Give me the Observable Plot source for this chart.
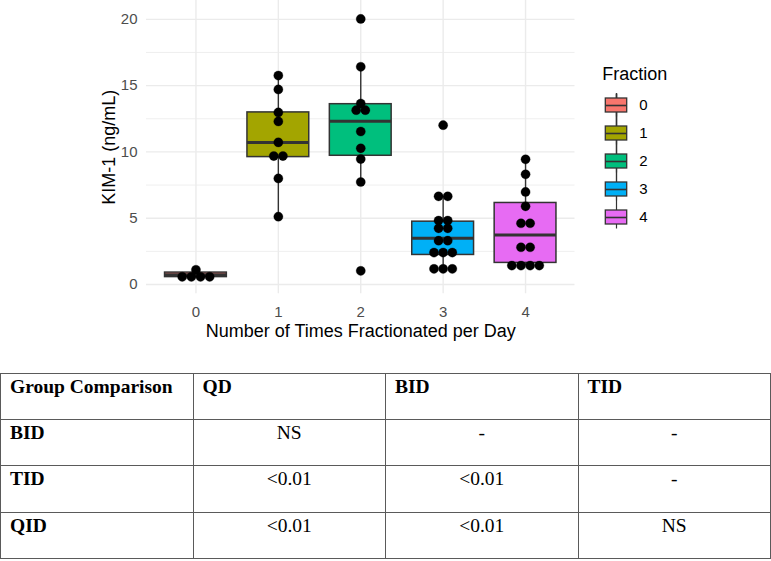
<!DOCTYPE html>
<html>
<head>
<meta charset="utf-8">
<script src="https://cdn.jsdelivr.net/npm/d3@7"></script>
<script src="https://cdn.jsdelivr.net/npm/@observablehq/plot@0.6"></script>
<style>
  html, body { margin: 0; padding: 0; background: #fff; }
  #wrap { position: relative; width: 771px; height: 561px; overflow: hidden; }
  #chart { position: absolute; left: 0; top: 0; }
  #legend { position: absolute; left: 595px; top: 55px; }
  #tbl { position: absolute; left: 0; top: 373px; border-collapse: collapse; table-layout: fixed;
         width: 770px;
         font-family: "Liberation Serif", "Times New Roman", serif; font-size: 19.5px; color: #000; }
  #tbl td { border: 1.5px solid #5a5a5a; width: 192.5px; height: 46.2px; vertical-align: top;
            padding: 2px 0 0 0; line-height: 1.15; box-sizing: border-box; }
  #tbl td.lab { font-weight: bold; text-align: left; padding-left: 9px; }
  #tbl td.val { text-align: center; }
</style>
</head>
<body>
<div id="wrap">
  <div id="chart"></div>
  <div id="legend"></div>
  <table id="tbl"></table>
</div>
<script>
// ---------- data ----------
const fractions = [0, 1, 2, 3, 4];
const fractionColors = ["#F8766D", "#A3A500", "#00BF7D", "#00B0F6", "#E76BF3"];

// KIM-1 (ng/mL) individual values (as displayed by the dot plot)
const kimFraction0 = [0.58, 0.58, 0.58, 0.58, 1.11];
const kimFraction1 = [15.76, 14.71, 12.98, 12.30, 10.72, 9.69, 9.69, 8.00, 5.12];
const kimFraction2 = [20.03, 16.42, 13.65, 13.15, 13.15, 11.54, 10.27, 9.46, 7.73, 1.03];
const kimFraction3 = [12.02, 6.65, 6.65, 4.82, 4.82, 4.24, 4.24, 3.31, 3.31, 2.41, 2.41, 2.41, 1.18, 1.18, 1.18];
const kimFraction4 = [9.44, 8.31, 6.98, 5.90, 4.62, 4.62, 2.81, 2.81, 1.43, 1.43, 1.43, 1.43];

// box plot statistics per fraction
const boxQ1        = [0.56, 9.61, 9.71, 2.23, 1.63];
const boxMedian    = [0.74, 10.72, 12.32, 3.49, 3.74];
const boxQ3        = [0.90, 12.98, 13.60, 4.74, 6.15];
const whiskerLow   = [0.50, 5.12, 7.73, 1.18, 1.43];
const whiskerHigh  = [1.11, 15.76, 16.42, 6.65, 9.44];

const yTicks = [0, 5, 10, 15, 20];
const yMinorTicks = [2.5, 7.5, 12.5, 17.5];

// comparison table
const tableHeader = ["Group Comparison", "QD", "BID", "TID"];
const tableRowLabels = ["BID", "TID", "QID"];
const tableValues = [
  ["NS", "-", "-"],
  ["<0.01", "<0.01", "-"],
  ["<0.01", "<0.01", "NS"]
];

// ---------- build tables for the marks ----------
const BOX_HALF = 0.375;     // ggplot default box width 0.75
const DOT_STEP = 0.111;     // horizontal spacing of stacked dots (x units)

const boxes = fractions.map((f, i) => ({
  fraction: f, q1: boxQ1[i], med: boxMedian[i], q3: boxQ3[i],
  lo: whiskerLow[i], hi: whiskerHigh[i]
}));

function stack(f, values) {
  const counts = d3.rollup(values, v => v.length, v => v);
  const seen = new Map();
  return values.map(v => {
    const n = counts.get(v);
    const k = seen.get(v) || 0;
    seen.set(v, k + 1);
    return { fraction: f, value: v, xp: f + (k - (n - 1) / 2) * DOT_STEP };
  });
}
const dots = [
  ...stack(0, kimFraction0), ...stack(1, kimFraction1), ...stack(2, kimFraction2),
  ...stack(3, kimFraction3), ...stack(4, kimFraction4)
];

const font = "'Liberation Sans', Arial, sans-serif";
const grid = "#EBEBEB";
const dark = "#333333";

const chart = Plot.plot({
  width: 771,
  height: 345,
  marginTop: 0,
  marginLeft: 146,
  marginRight: 196.5,
  marginBottom: 51.7,
  style: { fontFamily: font, background: "white", overflow: "visible" },
  x: { domain: [-0.6, 4.6] },
  y: { domain: [-0.7, 21.42] },
  color: { type: "ordinal", domain: fractions, range: fractionColors },
  marks: [
    Plot.gridY(yMinorTicks, { stroke: grid, strokeOpacity: 1, strokeWidth: 0.8 }),
    Plot.gridY(yTicks, { stroke: grid, strokeOpacity: 1, strokeWidth: 1.4 }),
    Plot.gridX(fractions, { stroke: grid, strokeOpacity: 1, strokeWidth: 1.4 }),
    Plot.axisY(yTicks, { tickSize: 0, tickPadding: 9, fontSize: 15, color: "#4D4D4D", label: null }),
    Plot.axisX(fractions, { tickSize: 0, tickPadding: 12.5, fontSize: 15, color: "#4D4D4D", label: null, tickFormat: d => String(d) }),
    Plot.ruleX(boxes, { x: "fraction", y1: "lo", y2: "hi", stroke: dark, strokeWidth: 1.4 }),
    Plot.rect(boxes, {
      x1: d => d.fraction - BOX_HALF, x2: d => d.fraction + BOX_HALF,
      y1: "q1", y2: "q3", fill: "fraction", stroke: dark, strokeWidth: 1.5
    }),
    Plot.ruleY(boxes, {
      y: "med", x1: d => d.fraction - BOX_HALF, x2: d => d.fraction + BOX_HALF,
      stroke: dark, strokeWidth: 3
    }),
    Plot.dot(dots, { x: "xp", y: "value", r: 4.6, fill: "black", stroke: "black", strokeWidth: 0.3 }),
    Plot.text(["Number of Times Fractionated per Day"], {
      frameAnchor: "bottom", dy: 37, lineAnchor: "middle", fontSize: 18, fill: "black"
    }),
    Plot.text(["KIM-1 (ng/mL)"], {
      frameAnchor: "left", dx: -37.5, rotate: -90, textAnchor: "middle", lineAnchor: "middle",
      fontSize: 18, fill: "black"
    })
  ]
});
document.getElementById("chart").appendChild(chart);

// ---------- legend ----------
const legend = Plot.plot({
  width: 120,
  height: 185,
  margin: 0,
  style: { fontFamily: font, background: "transparent" },
  x: { domain: [0, 1], range: [10.3, 31.7], axis: null },
  y: { type: "band", domain: fractions, range: [34.8, 176.9], padding: 0, axis: null },
  color: { type: "ordinal", domain: fractions, range: fractionColors },
  marks: [
    Plot.ruleX(fractions, { x: 0.5, y: d => d, insetTop: 2.5, insetBottom: 2.5, stroke: dark, strokeWidth: 1.2 }),
    Plot.barX(fractions, { x1: 0, x2: 1, y: d => d, fill: d => d, insetTop: 7, insetBottom: 7, stroke: dark, strokeWidth: 1.3 }),
    Plot.ruleY(fractions, { y: d => d, x1: 0, x2: 1, stroke: dark, strokeWidth: 1.6 }),
    Plot.text(fractions, { x: 1, y: d => d, dx: 12, text: d => String(d), textAnchor: "start", fontSize: 15, fill: "black" }),
    Plot.text(["Fraction"], { frameAnchor: "top-left", dx: 6.7, dy: 11.5, lineAnchor: "top", fontSize: 18, fill: "black" })
  ]
});
document.getElementById("legend").appendChild(legend);

// ---------- table ----------
const tbl = document.getElementById("tbl");
const headRow = tbl.insertRow();
tableHeader.forEach(h => {
  const c = headRow.insertCell();
  c.className = "lab";
  c.textContent = h;
});
tableRowLabels.forEach((lab, i) => {
  const r = tbl.insertRow();
  const c0 = r.insertCell();
  c0.className = "lab";
  c0.textContent = lab;
  tableValues[i].forEach(v => {
    const c = r.insertCell();
    c.className = "val";
    c.textContent = v;
  });
});
</script>
</body>
</html>
